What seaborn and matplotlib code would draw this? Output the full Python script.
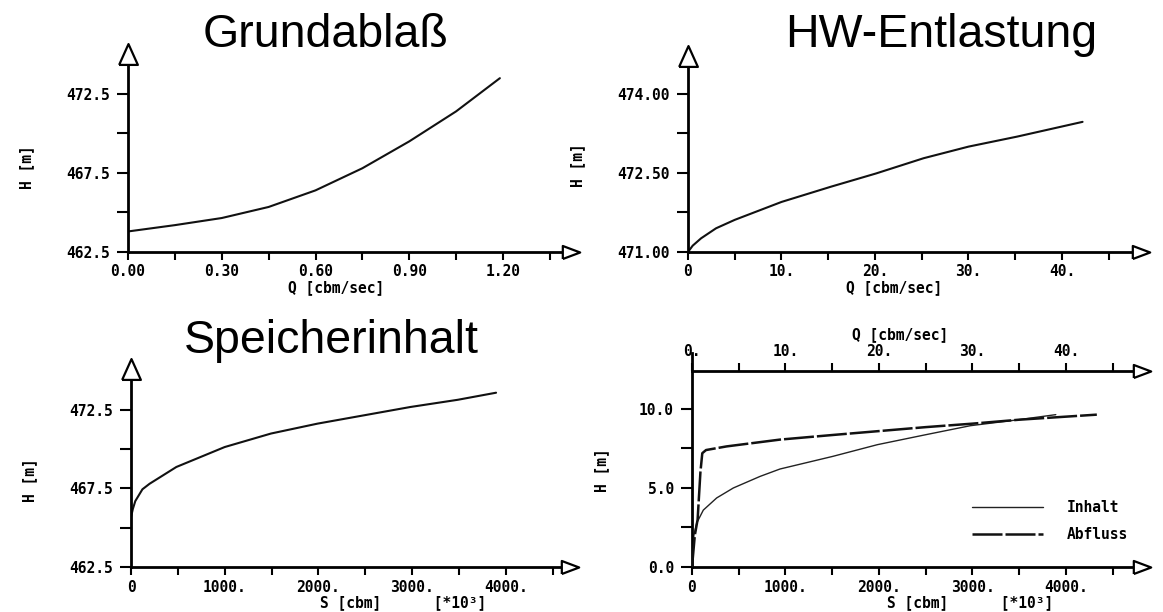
import matplotlib
matplotlib.use("Agg")
import matplotlib.pyplot as plt
import seaborn as sns

# Grundablass: Q [cbm/sec] -> H [m]
gr_q = [0.0, 0.15, 0.30, 0.45, 0.60, 0.75, 0.90, 1.05, 1.19]
gr_h = [463.8, 464.2, 464.65, 465.35, 466.4, 467.8, 469.5, 471.4, 473.5]

# HW-Entlastung: Q [cbm/sec] -> H [m]
hw_q = [0.0, 0.5, 1.4, 3.0, 5.0, 10.0, 15.3, 20.1, 25.2, 30.0, 35.2, 42.2]
hw_h = [471.0, 471.12, 471.26, 471.45, 471.61, 471.95, 472.24, 472.49, 472.78, 473.0, 473.19, 473.47]

# Speicherinhalt: S [cbm *10^3] -> H [m]
sp_s = [0, 20, 46, 122, 198, 484, 1000, 1494, 1990, 2486, 2981, 3488, 3896]
sp_h = [465.68, 466.2, 466.7, 467.45, 467.8, 468.87, 470.14, 471.0, 471.63, 472.16, 472.69, 473.15, 473.6]

# Kombiniert (H relativ)
inh_s = [0, 20, 50, 121, 264, 442, 727, 941, 1506, 1983, 2500, 2977, 3494, 3891]
inh_h = [0.0, 2.0, 2.78, 3.6, 4.37, 5.0, 5.73, 6.2, 7.0, 7.74, 8.37, 8.94, 9.32, 9.64]
abf_q = [0.0, 0.3, 0.6, 0.9, 1.1, 1.5, 3.7, 9.4, 15.0, 20.0, 25.0, 30.0, 35.0, 43.3]
abf_h = [0.0, 2.0, 3.0, 6.0, 7.2, 7.4, 7.63, 8.06, 8.35, 8.6, 8.85, 9.07, 9.32, 9.64]

sns.set_style("ticks")
plt.rcParams["font.family"] = ["DejaVu Sans Mono"]
plt.rcParams["font.weight"] = "bold"
plt.rcParams["text.color"] = "black"
plt.rcParams["xtick.labelcolor"] = "black"
plt.rcParams["ytick.labelcolor"] = "black"

W, H = 1163, 612
fig = plt.figure(figsize=(11.63, 6.12), dpi=100)

TRI_R = [(-1, -0.75), (1, 0), (-1, 0.75), (-1, -0.75)]
TRI_U = [(-0.9, -1), (0, 1), (0.9, -1), (-0.9, -1)]


def px_axes(left, top, right, bottom):
    return fig.add_axes([left / W, 1 - bottom / H, (right - left) / W, (bottom - top) / H])


def style(ax, y_arrow=True):
    for s in ["top", "right"]:
        ax.spines[s].set_visible(False)
    for s in ["left", "bottom"]:
        ax.spines[s].set_linewidth(2)
        ax.spines[s].set_color("black")
    ax.tick_params(which="both", direction="out", colors="black", labelsize=10.5, width=1.5)
    ax.tick_params(axis="x", which="both", length=6, pad=3)
    ax.tick_params(axis="y", which="both", length=8, pad=5)
    ax.patch.set_alpha(0)
    ax.plot([1], [0], marker=TRI_R, ms=12.5, mfc="white", mec="black", mew=1.6,
            transform=ax.transAxes, clip_on=False, zorder=6)
    if y_arrow:
        ax.plot([0], [1], marker=TRI_U, ms=15, mfc="white", mec="black", mew=1.6,
                transform=ax.transAxes, clip_on=False, zorder=6)


def title(x, y, txt):
    fig.text(x / W, 1 - y / H, txt, fontsize=33.5, family="Liberation Sans",
             weight="normal", ha="left", va="baseline", color="black")


def label(x, y, txt, rot=0):
    fig.text(x / W, 1 - y / H, txt, fontsize=10.5, ha="center", va="center",
             rotation=rot, color="black")


# --- Grundablass ---
ax1 = px_axes(128, 54, 571, 252)
sns.lineplot(x=gr_q, y=gr_h, ax=ax1, color="#111111", lw=1.5, sort=False, estimator=None)
ax1.set_xlim(0, 1.4176)
ax1.set_ylim(462.5, 475.03)
ax1.set_xticks([0.0, 0.3, 0.6, 0.9, 1.2])
ax1.set_xticklabels(["0.00", "0.30", "0.60", "0.90", "1.20"])
ax1.set_xticks([0.15, 0.45, 0.75, 1.05, 1.35], minor=True)
ax1.set_yticks([462.5, 467.5, 472.5])
ax1.set_yticklabels(["462.5", "467.5", "472.5"])
ax1.set_yticks([465.0, 470.0], minor=True)
style(ax1)
title(203, 47, "Grundablaß")
label(336, 288, "Q [cbm/sec]")
label(27, 167, "H [m]", 90)

# --- HW-Entlastung ---
ax2 = px_axes(688, 56, 1141, 252)
sns.lineplot(x=hw_q, y=hw_h, ax=ax2, color="#111111", lw=1.5, sort=False, estimator=None)
ax2.set_xlim(0, 48.45)
ax2.set_ylim(471.0, 474.72)
ax2.set_xticks([0, 10, 20, 30, 40])
ax2.set_xticklabels(["0", "10.", "20.", "30.", "40."])
ax2.set_xticks([5, 15, 25, 35, 45], minor=True)
ax2.set_yticks([471.0, 472.5, 474.0])
ax2.set_yticklabels(["471.00", "472.50", "474.00"])
ax2.set_yticks([471.75, 473.25], minor=True)
style(ax2)
title(785, 47, "HW-Entlastung")
label(894, 288, "Q [cbm/sec]")
label(578, 165, "H [m]", 90)

# --- Speicherinhalt ---
ax3 = px_axes(131, 369, 570, 567)
sns.lineplot(x=sp_s, y=sp_h, ax=ax3, color="#111111", lw=1.5, sort=False, estimator=None)
ax3.set_xlim(0, 4685)
ax3.set_ylim(462.5, 475.11)
ax3.set_xticks([0, 1000, 2000, 3000, 4000])
ax3.set_xticklabels(["0", "1000.", "2000.", "3000.", "4000."])
ax3.set_xticks([500, 1500, 2500, 3500, 4500], minor=True)
ax3.set_yticks([462.5, 467.5, 472.5])
ax3.set_yticklabels(["462.5", "467.5", "472.5"])
ax3.set_yticks([465.0, 470.0], minor=True)
style(ax3)
title(184, 353, "Speicherinhalt")
label(403, 603, "S [cbm]      [*10³]")
label(30, 480, "H [m]", 90)

# --- Inhalt / Abfluss ---
ax4 = px_axes(692, 353, 1142, 567)
ax4.set_xlim(0, 4813)
ax4.set_ylim(0, 13.54)
l1, = ax4.plot(inh_s, inh_h, color="#222222", lw=1.0)
ax4.set_xticks([0, 1000, 2000, 3000, 4000])
ax4.set_xticklabels(["0", "1000.", "2000.", "3000.", "4000."])
ax4.set_xticks([500, 1500, 2500, 3500, 4500], minor=True)
ax4.set_yticks([0, 5, 10])
ax4.set_yticklabels(["0.0", "5.0", "10.0"])
ax4.set_yticks([2.5, 7.5], minor=True)
style(ax4, y_arrow=False)

ax5 = ax4.twiny()
sns.lineplot(x=abf_q, y=abf_h, ax=ax5, color="#111111", lw=1.8, sort=False,
             estimator=None, dashes=False)
l2 = ax5.lines[-1]
l2.set_dashes([12, 1.2])
ax5.set_xlim(0, 48.13)
ax5.set_ylim(0, 13.54)
for s in ["bottom", "right", "left"]:
    ax5.spines[s].set_visible(False)
ax5.spines["top"].set_position(("axes", 196 / 214))
ax5.spines["top"].set_linewidth(2)
ax5.spines["top"].set_color("black")
ax5.set_xticks([0, 10, 20, 30, 40])
ax5.set_xticklabels(["0.", "10.", "20.", "30.", "40."])
ax5.set_xticks([5, 15, 25, 35, 45], minor=True)
ax5.tick_params(which="both", direction="out", length=6, width=1.5, labelsize=10.5,
                pad=3, colors="black")
ax5.plot([1], [196 / 214], marker=TRI_R, ms=12.5, mfc="white", mec="black", mew=1.6,
         transform=ax5.transAxes, clip_on=False, zorder=6)
ax5.set_xlabel("")
ax5.set_ylabel("")

ax4.legend([l1, l2], ["Inhalt", "Abfluss"], loc="upper left", frameon=False,
           bbox_to_anchor=(966 / W, 1 - 494 / H), bbox_transform=fig.transFigure,
           fontsize=10.5, handlelength=4.9, handletextpad=1.6, labelspacing=0.85,
           borderaxespad=0)
label(970, 603, "S [cbm]      [*10³]")
label(900, 335, "Q [cbm/sec]")
label(602, 470, "H [m]", 90)

fig.savefig("out.png", dpi=100)
